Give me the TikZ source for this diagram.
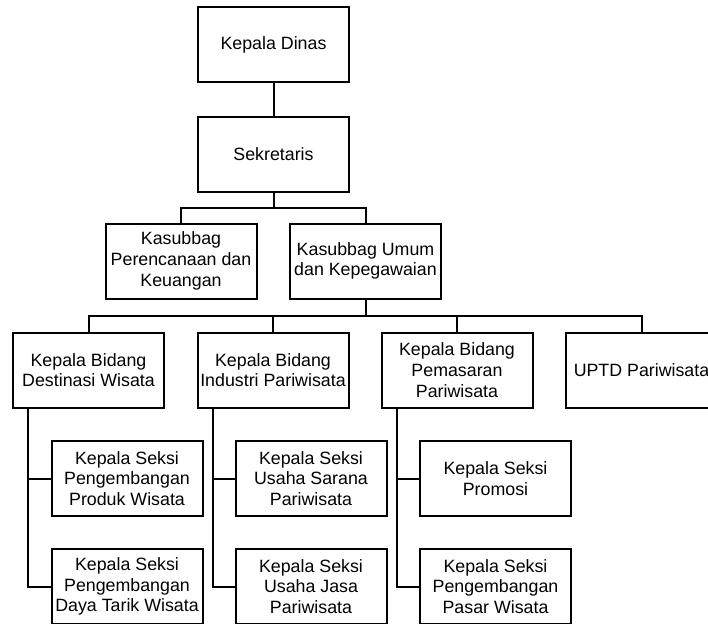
\documentclass[tikz,border=0pt]{standalone}
\usepackage{fontspec}
\setmainfont{Liberation Sans}
\begin{document}
\begin{tikzpicture}[x=1pt,y=-1pt]
        \tikzstyle{unit}=[draw, line width=2pt, minimum width=151pt, minimum height=75pt, inner sep=1pt, align=center, font=\fontsize{17.8}{20.7}\selectfont]
        \tikzstyle{link}=[line width=2pt]
        \useasboundingbox (0,0) rectangle (708,623);
        \clip (0,0) rectangle (708,623);
        \node[unit] (dinas) at (273.5,45) {Kepala Dinas};
        \node[unit] (sekretaris) at (273.5,154) {Sekretaris};
        \node[unit] (perencanaan) at (181,261) {Kasubbag\\Perencanaan dan\\Keuangan};
        \node[unit] (umum) at (365.5,261) {Kasubbag Umum\\dan Kepegawaian};
        \node[unit] (destinasi) at (88.5,370) {Kepala Bidang\\Destinasi Wisata};
        \node[unit] (industri) at (273,370) {Kepala Bidang\\Industri Pariwisata};
        \node[unit] (pemasaran) at (457,370) {Kepala Bidang\\Pemasaran\\Pariwisata};
        \node[unit] (uptd) at (641.5,370) {UPTD Pariwisata};
        \node[unit] (produk) at (127,478.5) {Kepala Seksi\\Pengembangan\\Produk Wisata};
        \node[unit] (daya) at (127,586.5) {Kepala Seksi\\Pengembangan\\Daya Tarik Wisata};
        \node[unit] (sarana) at (311,478.5) {Kepala Seksi\\Usaha Sarana\\Pariwisata};
        \node[unit] (jasa) at (311,586.5) {Kepala Seksi\\Usaha Jasa\\Pariwisata};
        \node[unit] (promosi) at (495.5,478.5) {Kepala Seksi\\Promosi};
        \node[unit] (pasar) at (495.5,586.5) {Kepala Seksi\\Pengembangan\\Pasar Wisata};
        \coordinate (bus1) at (273.5,208);
        \coordinate (bus2) at (365.5,316);
        \draw[link] (dinas) -- (sekretaris);
        \draw[link] (sekretaris) -- (bus1) -| (perencanaan);
        \draw[link] (bus1) -| (umum);
        \draw[link] (umum) -- (bus2) -| (destinasi);
        \draw[link] (bus2) -| (industri);
        \draw[link] (bus2) -| (pemasaran);
        \draw[link] (bus2) -| (uptd);
        \draw[link] ([xshift=16pt]destinasi.south west) |- (produk);
        \draw[link] ([xshift=16pt]destinasi.south west) |- (daya);
        \draw[link] ([xshift=16pt]industri.south west) |- (sarana);
        \draw[link] ([xshift=16pt]industri.south west) |- (jasa);
        \draw[link] ([xshift=16pt]pemasaran.south west) |- (promosi);
        \draw[link] ([xshift=16pt]pemasaran.south west) |- (pasar);
\end{tikzpicture}
\end{document}
